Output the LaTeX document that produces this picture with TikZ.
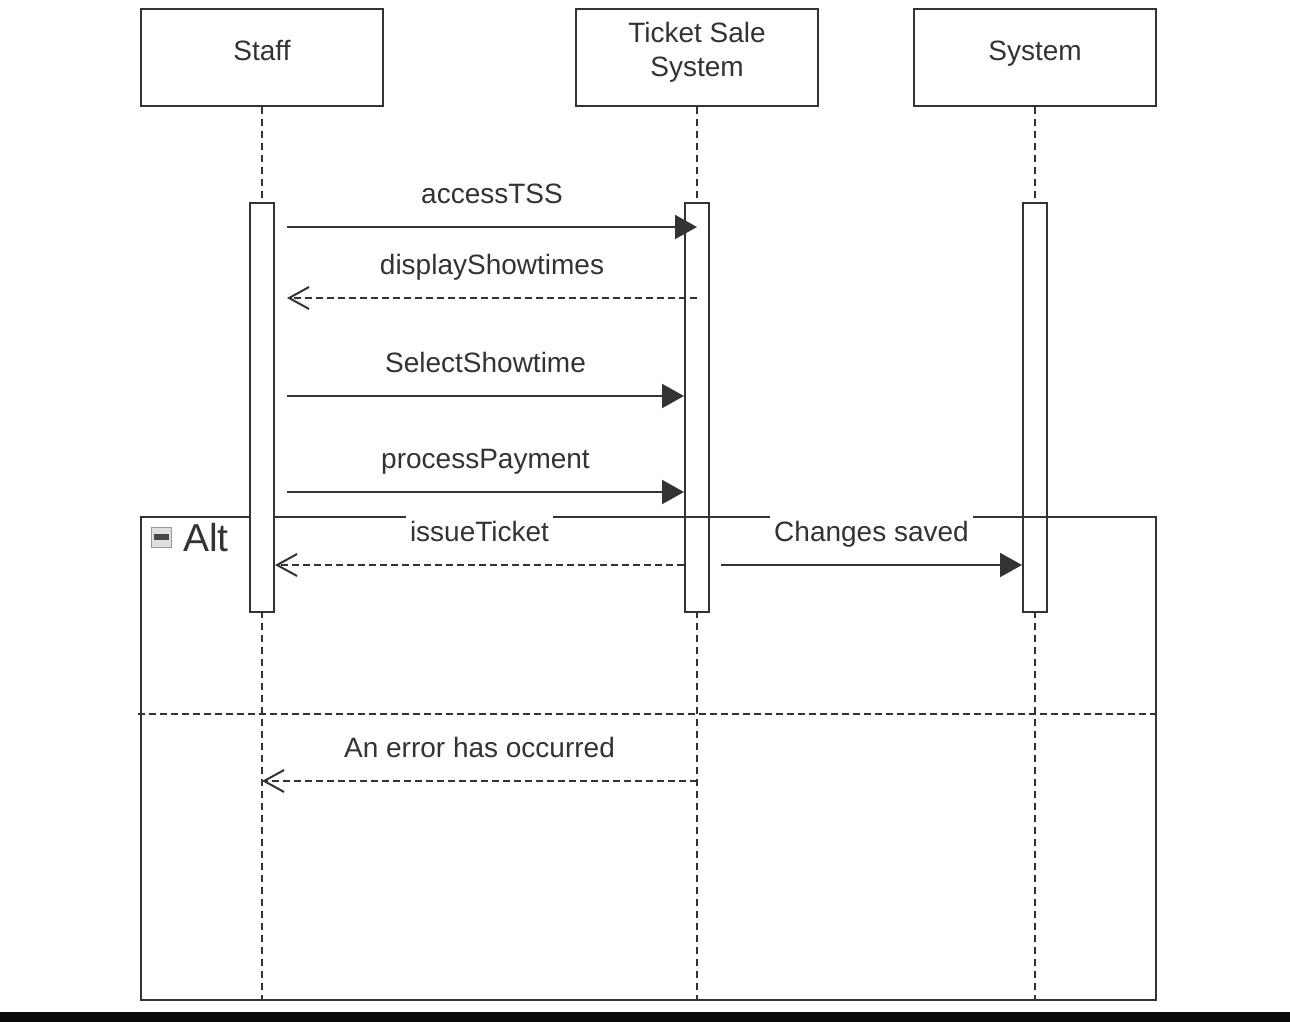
\documentclass[tikz,border=0pt]{standalone}
\usepackage{fontspec}
\setmainfont{Liberation Sans}
\usetikzlibrary{arrows.meta}
\definecolor{umlline}{HTML}{333333}
\definecolor{umltext}{HTML}{333333}

\begin{document}
\begin{tikzpicture}[
  x=1pt, y=-1pt,
  every node/.style={text=umltext, font=\fontsize{28}{34}\selectfont},
  actor/.style={draw=umlline, line width=2pt, fill=white, minimum width=242pt, minimum height=97pt, align=center, text height=20pt, text depth=13pt},
  bar/.style={draw=umlline, line width=2pt, fill=white, minimum width=24pt, minimum height=409pt, inner sep=0pt},
  life/.style={draw=umlline, line width=1.6pt, dash pattern=on 7pt off 5pt},
  call/.style={draw=umlline, line width=2pt, -{Triangle[length=22pt,width=24pt]}},
  reply/.style={draw=umlline, line width=2pt, dash pattern=on 7pt off 4pt, -{Straight Barb[length=20pt,width=22pt]}},
  msg/.style={anchor=base, yshift=24pt, fill=white, inner sep=4pt, text height=22pt, text depth=6pt}
  ]
  \useasboundingbox (0,0) rectangle (1290,1022);

  % participants
  \node[actor] (staff) at (262,57.5) {Staff};
  \node[actor, text height=54pt, text depth=15pt] (tss) at (697,57.5) {Ticket Sale\\System};
  \node[actor] (sys) at (1035,57.5) {System};

  % lifelines
  \coordinate (fbot) at (0,1000);
  \draw[life] (staff.south) -- (staff.south |- fbot);
  \draw[life] (tss.south) -- (tss.south |- fbot);
  \draw[life] (sys.south) -- (sys.south |- fbot);

  % activations
  \node[bar] (tssbar) at (697,407.5) {};
  \node[bar] (sysbar) at (1035,407.5) {};

  % alt fragment
  \node[draw=umlline, line width=2pt, minimum width=1015pt, minimum height=483pt, inner sep=0pt] (alt) at (648.5,758.5) {};
  \node[bar] (staffbar) at (262,407.5) {};
  \draw[umlline, line width=2pt, dash pattern=on 7pt off 4pt] (138,714) -- (1160,714);
  \node[draw=gray!80, fill=gray!25, line width=1pt, minimum size=20pt, inner sep=0pt] (alticon) at (161,537) {};
  \fill[gray!55!black] ([xshift=3pt,yshift=3pt]alticon.west) rectangle ([xshift=-3pt,yshift=-3pt]alticon.east);
  \node[anchor=base west, font=\fontsize{39}{44}\selectfont, inner sep=0pt] (altlbl) at (183,551) {Alt};

  % messages
  \coordinate (m1) at (287,227);
  \coordinate (m2) at (287,298);
  \coordinate (m3) at (287,396);
  \coordinate (m4) at (287,492);
  \coordinate (m5) at (0,565);
  \coordinate (m6) at (0,781);
  \draw[call] (m1) -- (m1 -| tssbar) node[msg, midway] {accessTSS};
  \draw[reply] (m2 -| tssbar) -- (m2) node[msg, midway] {displayShowtimes};
  \draw[call] (m3) -- (m3 -| tssbar.west) node[msg, midway] {SelectShowtime};
  \draw[call] (m4) -- (m4 -| tssbar.west) node[msg, midway] {processPayment};
  \draw[reply] (m5 -| tssbar.west) -- (m5 -| staffbar.east) node[msg, midway] {issueTicket};
  \draw[call] ([xshift=11pt]m5 -| tssbar.east) -- (m5 -| sysbar.west) node[msg, midway] {Changes saved};
  \draw[reply] (m6 -| tssbar) -- (m6 -| staffbar) node[msg, midway] {An error has occurred};

  % bottom strip
  \fill[black!96] (0,1012) rectangle (1290,1022);
\end{tikzpicture}
\end{document}
